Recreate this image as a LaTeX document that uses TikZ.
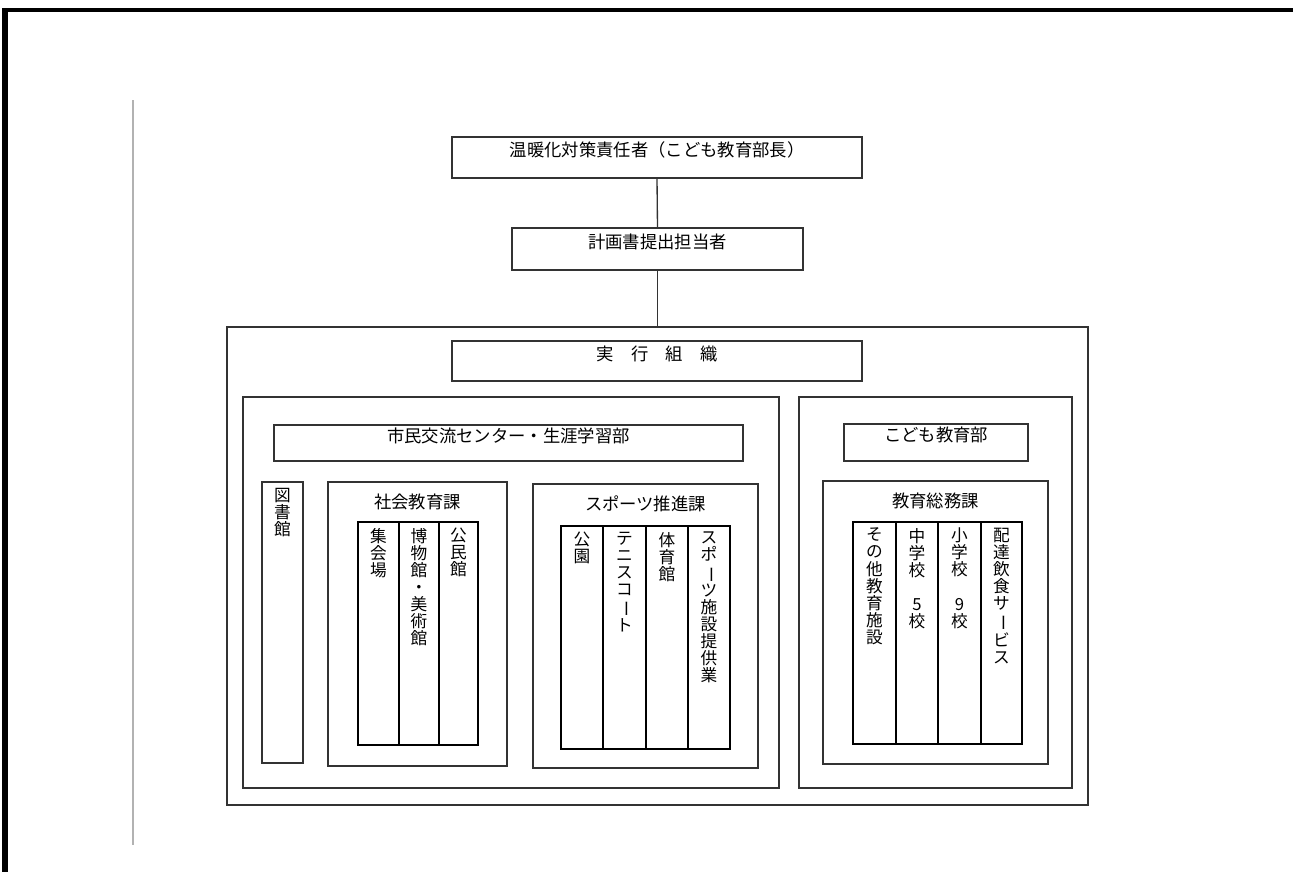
\documentclass[tikz,border=0pt]{standalone}
\usepackage{fontspec}
\setmainfont{Noto Sans CJK JP}
\usepackage{tikz}
\usetikzlibrary{fit}
\tikzset{
  box/.style={draw=black!80, line width=1pt, inner sep=0pt, font=\fontsize{13}{15}\selectfont},
  colbox/.style={draw=black, line width=1.3pt, inner sep=0pt},
  hlab/.style={anchor=north, inner sep=0pt, yshift=-9pt, font=\fontsize{13}{15}\selectfont},
  vlab/.style={anchor=north, align=center, inner sep=0pt, yshift=-5pt, font=\fontsize{12.5}{12.8}\selectfont}
}
\newcommand{\chouon}{\rotatebox[origin=c]{-90}{ー}}

\begin{document}
\begin{tikzpicture}[x=0.75pt,y=-0.75pt]
       \useasboundingbox (0,0) rectangle (1293,872);
       \fill[black] (2,8) rectangle (1293,11.5);
       \fill[black] (2,8) rectangle (8,872);
       \draw[black!30, line width=0.8pt] (133,100) -- (133,845);

       \node[box, fit={(452,137) (862,178)}] (chief) {温暖化対策責任者（こども教育部長）};
       \node[box, fit={(512,228) (803,270)}] (planner) {計画書提出担当者};
       \node[box, fit={(227,327) (1088,805)}] (exec) {};
       \node[box, fit={(452,341) (862,381)}] (jikko) {実　行　組　織};

       \draw[black!80, line width=1pt] (chief.south) -- (planner.north);
       \draw[black!80, line width=1pt] (planner.south) -- (exec.north);

       \node[box, fit={(243,397) (779,788)}] (shimin) {};
       \node[box, fit={(274,425) (743,461)}] (shiminttl) {市民交流センター・生涯学習部};
       \node[box, fit={(262,482) (303,763)}, label={[vlab]north:{図\\書\\館}}] (tosho) {};

       \node[box, fit={(328,482) (507,766)}, label={[hlab]north:社会教育課}] (shakai) {};
       \node[colbox, fit={(358,522) (399,745)}, label={[vlab]north:{集\\会\\場}}] (shukai) {};
       \node[colbox, fit={(399,522) (439,745)}, label={[vlab]north:{博\\物\\館\\・\\美\\術\\館}}] (hakubutsu) {};
       \node[colbox, fit={(439,522) (478,745)}, label={[vlab]north:{公\\民\\館}}] (kominkan) {};

       \node[box, fit={(533,484) (758,768)}, label={[hlab]north:スポーツ推進課}] (sports) {};
       \node[colbox, fit={(561,526) (603,749)}, label={[vlab]north:{公\\園}}] (koen) {};
       \node[colbox, fit={(603,526) (646,749)}, label={[vlab]north:{テ\\ニ\\ス\\コ\\\chouon\\ト}}] (tennis) {};
       \node[colbox, fit={(646,526) (688,749)}, label={[vlab]north:{体\\育\\館}}] (taiikukan) {};
       \node[colbox, fit={(688,526) (730,749)}, label={[vlab]north:{ス\\ポ\\\chouon\\ツ\\施\\設\\提\\供\\業}}] (shisetsu) {};

       \node[box, fit={(799,397) (1072,788)}] (kodomo) {};
       \node[box, fit={(844,424) (1028,461)}] (kodomottl) {こども教育部};
       \node[box, fit={(823,481) (1048,764)}, label={[hlab]north:教育総務課}] (somu) {};
       \node[colbox, fit={(853,522) (896,744)}, label={[vlab]north:{そ\\の\\他\\教\\育\\施\\設}}] (sonota) {};
       \node[colbox, fit={(896,522) (938,744)}, label={[vlab]north:{中\\学\\校\\[12.8pt]5\\校}}] (chugaku) {};
       \node[colbox, fit={(938,522) (981,744)}, label={[vlab]north:{小\\学\\校\\[12.8pt]9\\校}}] (shogaku) {};
       \node[colbox, fit={(981,522) (1022,744)}, label={[vlab]north:{配\\達\\飲\\食\\サ\\\chouon\\ビ\\ス}}] (haitatsu) {};
\end{tikzpicture}
\end{document}
